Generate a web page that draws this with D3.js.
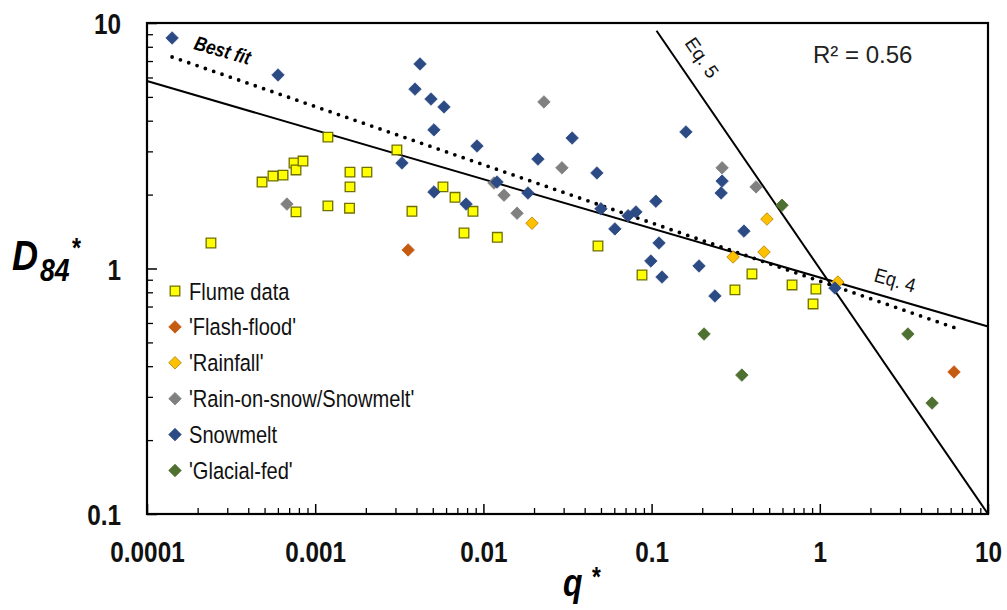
<!DOCTYPE html>
<html><head><meta charset="utf-8">
<script src="https://cdn.jsdelivr.net/npm/d3@7"></script>
<style>
body{margin:0;background:#fff;}
svg{display:block;font-family:"Liberation Sans",Arial,sans-serif;}
</style>
</head><body>
<svg id="c" width="1007" height="610"></svg>
<script>
// ---------- data ----------
const flumeQ = [2.40e-4,4.83e-4,5.61e-4,6.44e-4,7.48e-4,7.69e-4,8.46e-4,7.69e-4,1.19e-3,1.19e-3,1.61e-3,1.61e-3,1.60e-3,2.03e-3,3.06e-3,3.76e-3,5.75e-3,6.78e-3,7.67e-3,8.67e-3,0.0121,0.048,0.0877,0.395,0.313,0.684,0.948,0.912];
const flumeD = [1.27,2.25,2.38,2.40,2.69,2.52,2.74,1.70,3.43,1.80,2.47,2.15,1.76,2.47,3.04,1.71,2.15,1.95,1.395,1.71,1.34,1.235,0.941,0.950,0.818,0.857,0.825,0.717];
const flashQ = [3.57e-3,6.28];
const flashD = [1.19,0.379];
const rainQ = [0.01945,0.485,0.466,0.305,1.28];
const rainD = [1.53,1.59,1.167,1.114,0.881];
const rosQ = [6.79e-4,0.01156,0.01326,0.01585,0.0229,0.0293,0.2625,0.418];
const rosD = [1.83,2.23,1.99,1.68,4.77,2.57,2.57,2.15];
const snowQ = [1.41e-4,6.01e-4,4.20e-3,3.92e-3,4.88e-3,5.83e-3,5.08e-3,3.28e-3,5.08e-3,9.16e-3,0.0337,0.0211,0.0473,0.160,0.01205,0.0184,7.89e-3,0.050,0.0605,0.0725,0.0807,0.106,0.1107,0.099,0.1153,0.1914,0.238,0.259,0.2625,0.354,1.23];
const snowD = [8.69,6.14,6.81,5.38,4.90,4.55,3.67,2.69,2.05,3.155,3.40,2.79,2.45,3.60,2.25,2.03,1.83,1.75,1.45,1.64,1.70,1.88,1.27,1.073,0.923,1.024,0.773,2.03,2.27,1.42,0.833];
const glacQ = [0.596,0.205,0.344,3.34,4.65];
const glacD = [1.81,0.541,0.368,0.541,0.283];

// line end points
const eq4Q = [1e-4,10];     const eq4D = [5.8,0.58];
const eq5Q = [0.107,10];    const eq5D = [9.3,0.1];
const fitQ = [1.41e-4,6.37]; const fitD = [7.27,0.573];

const seriesNames = ["Flume data","'Flash-flood'","'Rainfall'","'Rain-on-snow/Snowmelt'","Snowmelt","'Glacial-fed'"];
const xTickValues = [1e-4,1e-3,1e-2,0.1,1,10];
const xTickLabels = ["0.0001","0.001","0.01","0.1","1","10"];
const yTickValues = [0.1,1,10];
const yTickLabels = ["0.1","1","10"];

// ---------- build ----------
const series = [
  {name:seriesNames[0], q:flumeQ, d:flumeD, shape:"square", fill:"#ffff00", stroke:"#6f6f00"},
  {name:seriesNames[1], q:flashQ, d:flashD, shape:"diamond", fill:"#c55a11", stroke:"#c55a11"},
  {name:seriesNames[2], q:rainQ, d:rainD, shape:"diamond", fill:"#ffc000", stroke:"#b08400"},
  {name:seriesNames[3], q:rosQ, d:rosD, shape:"diamond", fill:"#808080", stroke:"#808080"},
  {name:seriesNames[4], q:snowQ, d:snowD, shape:"diamond", fill:"#2c4a84", stroke:"#2c4a84"},
  {name:seriesNames[5], q:glacQ, d:glacD, shape:"diamond", fill:"#4e7030", stroke:"#4e7030"}
];

const svg = d3.select("#c");
const L=147, R=988, T=23, B=514;
const x = d3.scaleLog().domain([1e-4,10]).range([L,R]);
const y = d3.scaleLog().domain([0.1,10]).range([B,T]);
const NARROW = 0.81;

// minor ticks
const xMinor=[], yMinor=[];
for (let e=-4;e<1;e++) for (let m=2;m<10;m++) xMinor.push(m*Math.pow(10,e));
for (let e=-1;e<1;e++) for (let m=2;m<10;m++) yMinor.push(m*Math.pow(10,e));

// x axis
svg.append("g").attr("transform",`translate(0,${B})`)
  .call(d3.axisBottom(x).tickValues(xMinor).tickSize(-6).tickFormat(""))
  .call(g=>g.select(".domain").remove())
  .selectAll("line").attr("stroke","#000").attr("stroke-width",1.3);
const xa = svg.append("g").attr("transform",`translate(0,${B})`)
  .call(d3.axisBottom(x).tickValues(xTickValues).tickSize(-10).tickFormat((d,i)=>xTickLabels[i]))
  .call(g=>g.select(".domain").remove());
xa.selectAll("line").attr("stroke","#000").attr("stroke-width",1.5);
xa.attr("font-family",null).attr("font-size",null);
xa.selectAll("text").attr("y",48).attr("dy",null)
  .attr("font-size",30).attr("font-weight","bold").attr("fill","#111")
  .attr("transform",`scale(${NARROW},1)`);

// y axis
svg.append("g").attr("transform",`translate(${L},0)`)
  .call(d3.axisLeft(y).tickValues(yMinor).tickSize(-6).tickFormat(""))
  .call(g=>g.select(".domain").remove())
  .selectAll("line").attr("stroke","#000").attr("stroke-width",1.3);
const ya = svg.append("g").attr("transform",`translate(${L},0)`)
  .call(d3.axisLeft(y).tickValues(yTickValues).tickSize(-10).tickFormat((d,i)=>yTickLabels[i]))
  .call(g=>g.select(".domain").remove());
ya.selectAll("line").attr("stroke","#000").attr("stroke-width",1.5);
ya.attr("font-family",null).attr("font-size",null);
ya.selectAll("text").attr("x",-26/NARROW).attr("dy","0.36em")
  .attr("font-size",30).attr("font-weight","bold").attr("fill","#111")
  .attr("transform",`scale(${NARROW},1)`);

// frame
svg.append("rect").attr("x",L).attr("y",T).attr("width",R-L).attr("height",B-T)
  .attr("fill","none").attr("stroke","#000").attr("stroke-width",2.2);

// lines
const line = d3.line().x(d=>x(d[0])).y(d=>y(d[1]));
svg.append("path").datum(d3.zip(eq4Q,eq4D)).attr("d",line)
  .attr("stroke","#000").attr("stroke-width",2).attr("fill","none");
svg.append("path").datum(d3.zip(eq5Q,eq5D)).attr("d",line)
  .attr("stroke","#000").attr("stroke-width",2).attr("fill","none");
svg.append("path").datum(d3.zip(fitQ,fitD)).attr("d",line)
  .attr("stroke","#000").attr("stroke-width",3.8).attr("fill","none")
  .attr("stroke-linecap","round").attr("stroke-dasharray","0 8.8");

// points
const sq = d3.symbol(d3.symbolSquare, 92)();
const dia = d3.symbol(d3.symbolSquare, 78)();
function drawMarker(g, s){
  g.append("path").attr("d", s.shape==="square"?sq:dia)
    .attr("transform", s.shape==="square"?null:"rotate(45)")
    .attr("fill", s.fill).attr("stroke", s.stroke).attr("stroke-width", s.shape==="square"?1.3:0.8);
}
series.forEach(s=>{
  const pts = d3.zip(s.q, s.d);
  svg.append("g").selectAll("g").data(pts).join("g")
    .attr("transform", d=>`translate(${x(d[0])},${y(d[1])})`)
    .each(function(){ drawMarker(d3.select(this), s); });
});

// legend
const lg = svg.append("g");
series.forEach((s,i)=>{
  const yy = 291 + i*35.9;
  const m = lg.append("g").attr("transform",`translate(175,${yy})`);
  drawMarker(m, s);
  lg.append("text").attr("transform",`translate(189,${yy+8.5}) scale(0.82,1)`)
    .attr("font-size",24.5).attr("fill","#111").text(s.name);
});

// annotations
svg.append("text").attr("transform",`translate(193,49) rotate(16) scale(0.85,1)`)
  .attr("font-size",20).attr("font-weight","bold").attr("font-style","italic").text("Best fit");
svg.append("text").attr("transform",`translate(684,43) rotate(55.6)`)
  .attr("font-size",19).attr("fill","#111").text("Eq. 5");
svg.append("text").attr("transform",`translate(873,281) rotate(16.2) scale(0.9,1)`)
  .attr("font-size",20).attr("fill","#111").text("Eq. 4");
svg.append("text").attr("x",813).attr("y",63).attr("font-size",24).attr("fill","#222").text("R² = 0.56");

// axis titles
svg.append("text").attr("transform",`translate(12,270) scale(0.86,1)`)
  .attr("font-size",42).attr("font-weight","bold").attr("font-style","italic").text("D");
svg.append("text").attr("transform",`translate(40,281) scale(0.86,1)`)
  .attr("font-size",31).attr("font-weight","bold").attr("font-style","italic").text("84");
svg.append("text").attr("transform",`translate(72,257) scale(0.86,1)`)
  .attr("font-size",27).attr("font-weight","bold").text("*");
svg.append("text").attr("transform",`translate(563,596) scale(0.84,1)`)
  .attr("font-size",38).attr("font-weight","bold").attr("font-style","italic").text("q");
svg.append("text").attr("transform",`translate(592,586) scale(0.84,1)`)
  .attr("font-size",27).attr("font-weight","bold").text("*");
</script>
</body></html>
